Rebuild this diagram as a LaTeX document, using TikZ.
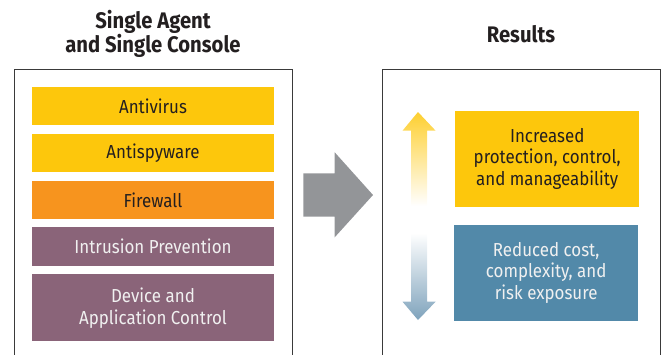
\documentclass[tikz,border=0pt]{standalone}
\usepackage{fontspec}
\setmainfont[FakeStretch=0.9]{Fira Sans}
\usetikzlibrary{positioning}
\definecolor{agentyellow}{HTML}{FDC70C}
\definecolor{agentorange}{HTML}{F7941E}
\definecolor{agentmauve}{HTML}{8A6479}
\definecolor{resultblue}{HTML}{5289A9}
\definecolor{arrowblue}{HTML}{7FA3BC}
\definecolor{arrowgray}{HTML}{939598}
\definecolor{framegray}{HTML}{3A3A3A}
\definecolor{textdark}{HTML}{231F20}
\tikzset{
	title/.style = {align=center, font=\fontsize{22.5}{24}\bfseries\selectfont, text=textdark},
	layer/.style = {rectangle, inner sep=0pt, minimum width=242pt, minimum height=38.5pt, align=center, font=\fontsize{18.8}{21.7}\selectfont},
	result/.style = {rectangle, inner sep=0pt, minimum width=183.5pt, minimum height=95.7pt, align=center, font=\fontsize{18.8}{21.7}\selectfont},
	frame/.style = {draw=framegray, line width=1pt},
}
\begin{document}
\begin{tikzpicture}[x=1pt, y=-1pt]
	\useasboundingbox (0,0) rectangle (662,354);
	% titles
	\node (AgentTitle) [title] at (153,34) {Single Agent\\and Single Console};
	\node (ResultsTitle) [title] at (521,34) {Results};
	% frames, open at the bottom
	\draw [frame] (14,358) -- (14,69) -- (292,69) -- (292,358);
	\draw [frame] (382,358) -- (382,69) -- (660,69) -- (660,358);
	% protection layers
	\node (Antivirus) [layer, fill=agentyellow, text=textdark] at (153,106) {Antivirus};
	\node (Antispyware) [layer, fill=agentyellow, text=textdark, below = 8pt of Antivirus] {Antispyware};
	\node (Firewall) [layer, fill=agentorange, text=textdark, below = 8pt of Antispyware] {Firewall};
	\node (Intrusion) [layer, fill=agentmauve, text=white!94!black, below = 8pt of Firewall] {Intrusion Prevention};
	\node (Device) [layer, fill=agentmauve, text=white!94!black, minimum height=67pt, below = 8pt of Intrusion] {Device and\\Application Control};
	% big arrow
	\fill [arrowgray] (303.4,173.3) -- (334.7,173.3) -- (334.7,152.3) -- (373,195) -- (334.7,237.3) -- (334.7,216.7) -- (303.4,216.7) -- cycle;
	% results
	\node (Increased) [result, fill=agentyellow, text=textdark] at (547.2,158.9) {Increased\\protection, control,\\and manageability};
	\node (Reduced) [result, fill=resultblue, text=white!94!black] at (546.2,272.9) {Reduced cost,\\complexity, and\\risk exposure};
	% up and down arrows
	\shade [top color=agentyellow!85!white, bottom color=white] (418,112) -- (435.6,130.7) -- (427,130.7) -- (427,206) -- (411,206) -- (411,130.7) -- (402.5,130.7) -- cycle;
	\shade [top color=white, bottom color=arrowblue] (411,233) -- (427,233) -- (427,301.7) -- (435.6,301.7) -- (418,320) -- (402.5,301.7) -- (411,301.7) -- cycle;
\end{tikzpicture}
\end{document}
